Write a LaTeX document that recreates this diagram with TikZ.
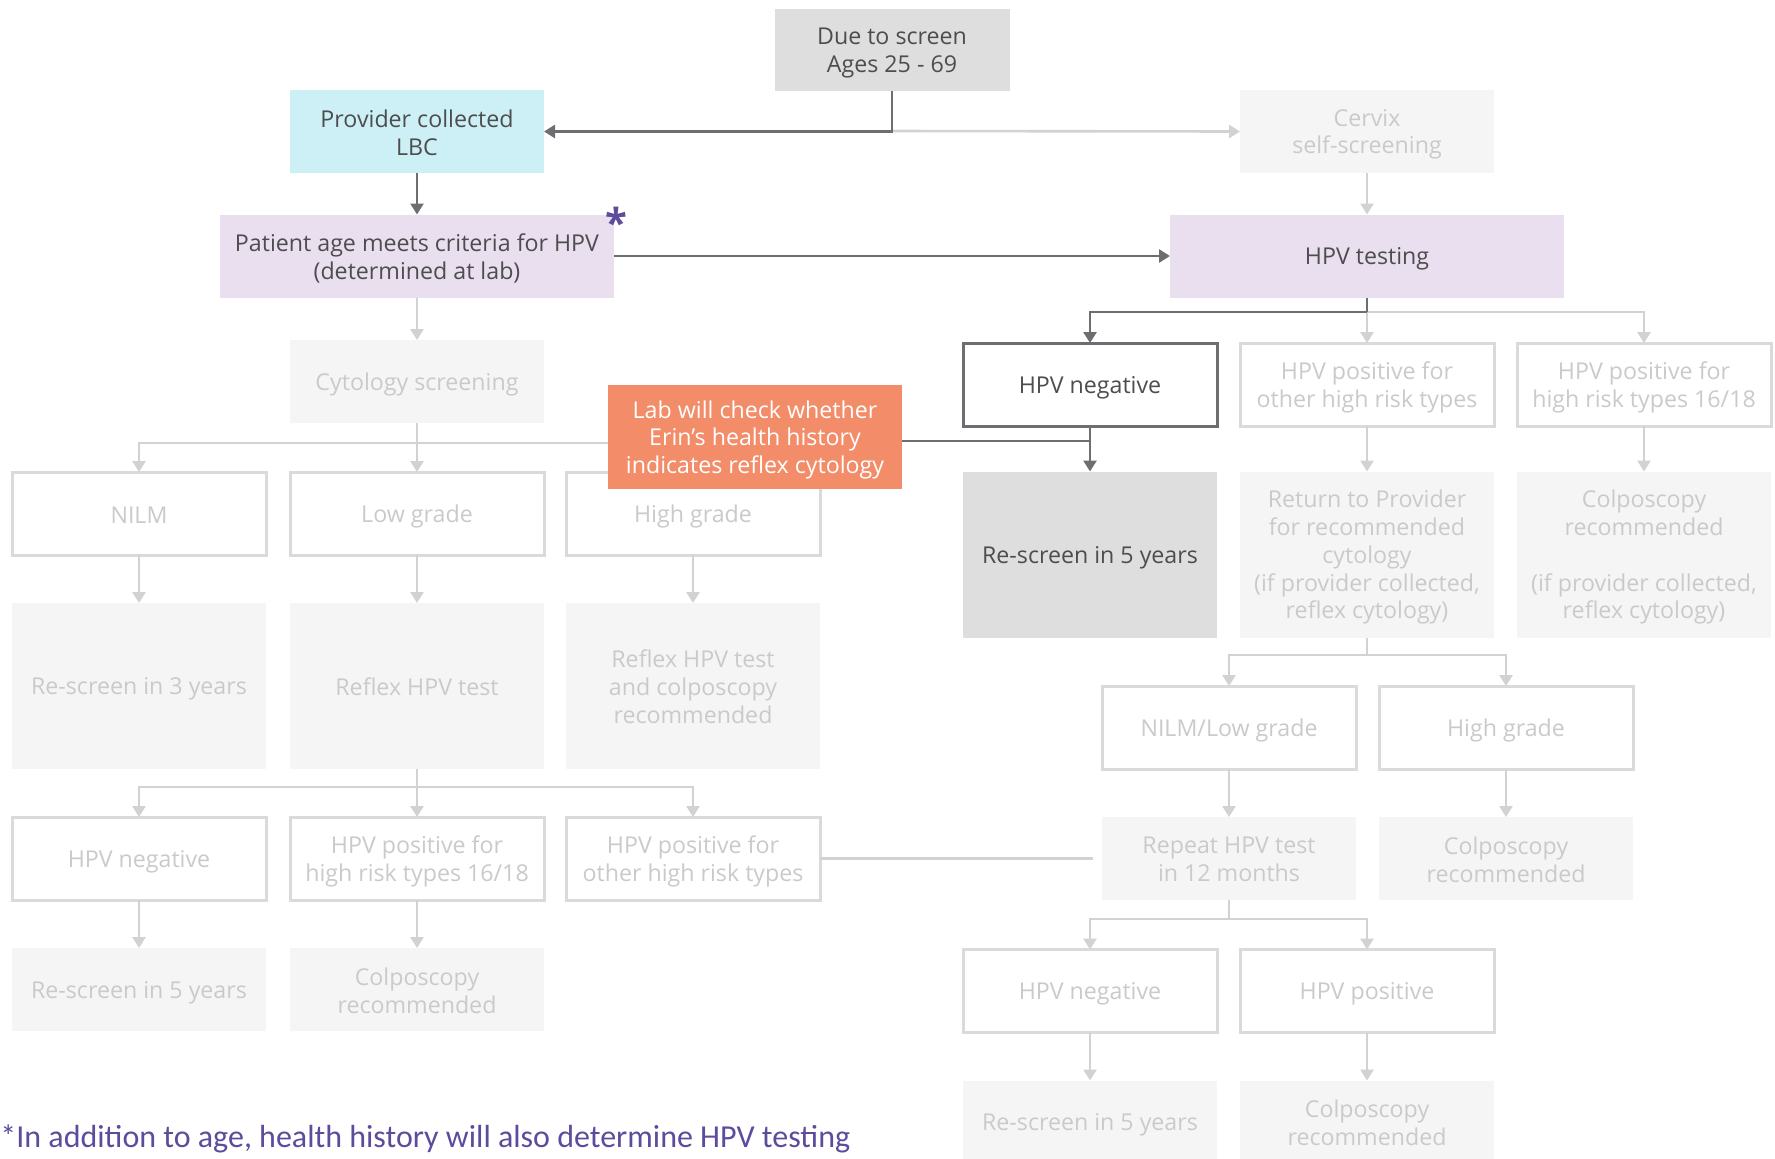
\documentclass[tikz,border=0pt]{standalone}
\usepackage{fontspec}
\setmainfont{Open Sans}
\newfontfamily\notefont{Carlito}
\usetikzlibrary{arrows.meta}

\definecolor{txtdark}{HTML}{4D4D4F}
\definecolor{txtlight}{HTML}{C9CACC}
\definecolor{linedark}{HTML}{6D6E71}
\definecolor{linelight}{HTML}{D1D2D4}
\definecolor{boxline}{HTML}{DADADA}
\definecolor{ghostfill}{HTML}{F5F5F5}
\definecolor{greyfill}{HTML}{DEDEDE}
\definecolor{cyanfill}{HTML}{CCF0F6}
\definecolor{lavfill}{HTML}{E9DFEE}
\definecolor{orangefill}{HTML}{F28C69}
\definecolor{notepurple}{HTML}{5E4B9C}

\begin{document}
\begin{tikzpicture}[x=0.5pt,y=-0.5pt,
  base/.style={rectangle, inner sep=2pt, outer sep=0pt, align=center,
    font=\fontsize{11.6}{13.9}\selectfont, minimum width=127pt, minimum height=41.5pt,
    % fixed first-line height and last-line depth keep every label at the same optical centre
    execute at begin node={\rule{0pt}{11.6pt}},
    execute at end node={\rule[-2pt]{0pt}{2pt}}},
  % multi-line labels: a little extra room above the block lowers it to the box's optical centre
  ml/.style={execute at begin node={\vbox\bgroup\kern2.8pt\hbox\bgroup},
    execute at end node={\egroup\egroup}},
  tall/.style={base, minimum height=83pt},
  wide/.style={base, minimum width=197pt},
  solidbox/.style={base, fill=#1, text=txtdark},
  ghost/.style={base, fill=ghostfill, text=txtlight},
  outlined/.style={base, draw=boxline, line width=1.5pt, fill=white, text=txtlight},
  darkoutlined/.style={base, draw=linedark, line width=1.5pt, fill=white, text=txtdark},
  dk/.style={draw=linedark, line width=1.3pt},
  lt/.style={draw=linelight, line width=1.3pt},
  dkar/.style={dk, -{Triangle[width=6.5pt,length=5.5pt]}},
  ltar/.style={lt, -{Triangle[width=6.5pt,length=5.5pt]}},
]
\useasboundingbox (0,0) rectangle (1775,1158);

% ---- top rows
\node[solidbox=greyfill, ml, minimum width=117.5pt, minimum height=41pt] (top) at (892,50) {Due to screen\\Ages 25 - 69};
\node[solidbox=cyanfill, ml] (prov) at (417,131.5) {Provider collected\\LBC};
\node[ghost, ml] (cervix) at (1367,131.5) {Cervix\\self-screening};
\node[solidbox=lavfill, wide, ml] (patient) at (417,256) {Patient age meets criteria for HPV\\(determined at lab)};
\node[solidbox=lavfill, wide] (hpvt) at (1367,256) {HPV testing};
\node[text=notepurple, font=\fontsize{20}{20}\selectfont\bfseries, inner sep=0pt] (star) at (616,222) {*};

% ---- cytology branch
\node[ghost] (cyto) at (417,381.5) {Cytology screening};
\node[outlined] (nilm) at (139,513.5) {NILM};
\node[outlined] (low) at (417,513.5) {Low grade};
\node[outlined] (high) at (693,513.5) {High grade};
\node[ghost, tall] (rs3) at (139,686) {Re-screen in 3 years};
\node[ghost, tall] (reflex) at (417,686) {Reflex HPV test};
\node[ghost, tall, ml] (refcol) at (693,686) {Reflex HPV test\\and colposcopy\\recommended};
\node[outlined] (lneg) at (139,858.5) {HPV negative};
\node[outlined, ml] (l16) at (417,858.5) {HPV positive for\\high risk types 16/18};
\node[outlined, ml] (loth) at (693,858.5) {HPV positive for\\other high risk types};
\node[ghost] (lrs5) at (139,989.5) {Re-screen in 5 years};
\node[ghost, ml] (lcol) at (417,989.5) {Colposcopy\\recommended};

% ---- HPV testing branch
\node[darkoutlined] (hneg) at (1090,384.5) {HPV negative};
\node[outlined, ml] (hpo) at (1367,384.5) {HPV positive for\\other high risk types};
\node[outlined, ml] (h16) at (1644,384.5) {HPV positive for\\high risk types 16/18};
\node[solidbox=greyfill, tall] (rs5a) at (1090,554.5) {Re-screen in 5 years};
\node[ghost, tall, ml] (ret) at (1367,554.5) {Return to Provider\\for recommended\\cytology\\(if provider collected,\\reflex cytology)};
\node[ghost, tall, ml] (colA) at (1644,554.5) {Colposcopy\\recommended\\[13.9pt](if provider collected,\\reflex cytology)};
\node[outlined] (nlg) at (1229,727.5) {NILM/Low grade};
\node[outlined] (hg2) at (1506,727.5) {High grade};
\node[ghost, ml] (rep) at (1229,858.5) {Repeat HPV test\\in 12 months};
\node[ghost, ml] (col2) at (1506,858.5) {Colposcopy\\recommended};
\node[outlined] (rneg) at (1090,991) {HPV negative};
\node[outlined] (rpos) at (1367,991) {HPV positive};
\node[ghost] (rrs5) at (1090,1122) {Re-screen in 5 years};
\node[ghost, ml] (rcol) at (1367,1122) {Colposcopy\\recommended};

% ---- junction points
\coordinate (j0) at (892,131);
\coordinate (j1) at (1367,312);
\coordinate (j2) at (417,443);
\coordinate (j3) at (1090,441);
\coordinate (j4) at (417,787);
\coordinate (j5) at (1367,655);
\coordinate (j6) at (1229,919);

% ---- light connectors
\draw[ltar] (j0) -- (cervix.west);
\draw[ltar] (cervix) -- (hpvt);
\draw[ltar] (patient) -- (cyto);
\draw[ltar] (j1) -- (hpo.north);
\draw[ltar] (j1) -| (h16.north);
\draw[ltar] (cyto.south) -- (low.north);
\draw[ltar] (j2) -| (nilm.north);
\draw[ltar] (j2) -| (high.north);
\draw[ltar] (nilm) -- (rs3);
\draw[ltar] (low) -- (reflex);
\draw[ltar] (high) -- (refcol);
\draw[ltar] (reflex.south) -- (l16.north);
\draw[ltar] (j4) -| (lneg.north);
\draw[ltar] (j4) -| (loth.north);
\draw[ltar] (lneg) -- (lrs5);
\draw[ltar] (l16) -- (lcol);
\draw[lt, shorten >=4.5pt] (loth.east) -- (rep.west);
\draw[ltar] (hpo) -- (ret);
\draw[ltar] (h16) -- (colA);
\draw[lt] (ret.south) -- (j5);
\draw[ltar] (j5) -| (nlg.north);
\draw[ltar] (j5) -| (hg2.north);
\draw[ltar] (nlg) -- (rep);
\draw[ltar] (hg2) -- (col2);
\draw[lt] (rep.south) -- (j6);
\draw[ltar] (j6) -| (rneg.north);
\draw[ltar] (j6) -| (rpos.north);
\draw[ltar] (rneg) -- (rrs5);
\draw[ltar] (rpos) -- (rcol);

% ---- dark connectors (active path)
\draw[dkar] (top.south) |- (prov.east);
\draw[dkar] (prov) -- (patient);
\draw[dkar] (patient.east) -- (hpvt.west);
\draw[dk] (hpvt.south) -- (j1);
\draw[dkar] (j1) -| (hneg.north);
\draw[dkar] (hneg) -- (rs5a);

% ---- lab note, drawn on top
\node[base, ml, fill=orangefill, text=white, minimum width=147pt, minimum height=52pt] (lab) at (755,437)
  {Lab will check whether\\Erin’s health history\\indicates reflex cytology};
\draw[dk] (lab.east |- j3) -- (j3);

% ---- footnote
\node[anchor=base west, inner sep=0pt, text=notepurple, font=\notefont\fontsize{16}{18}\selectfont] (note) at (0,1147)
  {*In addition to age, health history will also determine HPV testing};
\end{tikzpicture}
\end{document}
